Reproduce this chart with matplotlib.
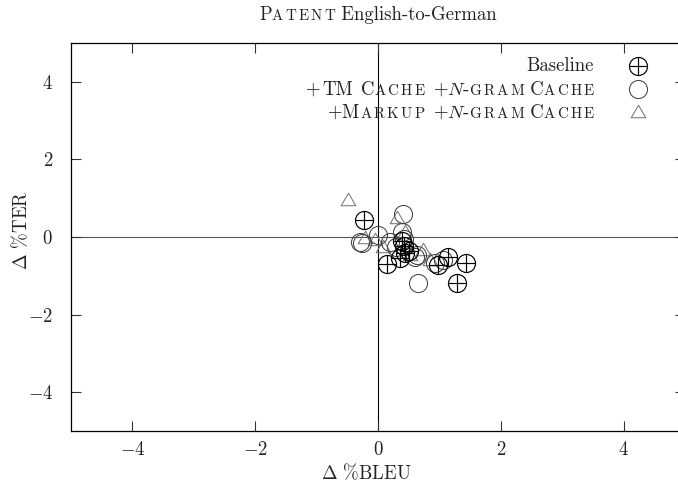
import matplotlib
matplotlib.use("Agg")
import matplotlib.pyplot as plt
from matplotlib.path import Path
from matplotlib.offsetbox import TextArea, HPacker, AnchoredOffsetbox

plt.rcParams['font.family'] = 'cmr10'
plt.rcParams['mathtext.fontset'] = 'cm'
plt.rcParams['axes.formatter.use_mathtext'] = True
plt.rcParams['axes.unicode_minus'] = True

# ---- data ----
baseline_x = [-0.22, 0.15, 0.39, 0.42, 0.44, 0.36, 0.50, 0.98, 1.14, 1.44, 1.28]
baseline_y = [0.44, -0.70, -0.10, -0.22, -0.42, -0.55, -0.35, -0.72, -0.52, -0.67, -1.18]

tm_x = [-0.30, -0.26, 0.00, 0.40, 0.39, 0.42, 0.20, 0.63, 0.60, 0.93, 1.06, 0.65, 0.30]
tm_y = [-0.12, -0.16, 0.05, 0.58, 0.13, -0.05, -0.13, -0.46, -0.52, -0.67, -0.59, -1.19, -0.25]

mk_x = [-0.49, -0.21, -0.05, 0.31, 0.44, 0.73, 0.85, 0.52, 0.08]
mk_y = [0.95, -0.03, -0.08, 0.49, 0.13, -0.34, -0.59, -0.46, -0.26]

xticks = [-4, -2, 0, 2, 4]
yticks = [-4, -2, 0, 2, 4]

FS = 13.5

# ---- markers ----
oplus = Path.make_compound_path(
    Path.unit_circle(),
    Path([[-1, 0], [1, 0]], [Path.MOVETO, Path.LINETO]),
    Path([[0, -1], [0, 1]], [Path.MOVETO, Path.LINETO]),
)
tri = Path([[-7, -5], [7, -5], [0, 7], [-7, -5]],
           [Path.MOVETO, Path.LINETO, Path.LINETO, Path.CLOSEPOLY])

fig = plt.figure(figsize=(6.78, 4.86), dpi=100)
ax = fig.add_axes([71/678, 55/486, 614/678, 388/486])

ax.axvline(0, color='black', lw=0.8, zorder=1)
ax.axhline(0, color='#555555', lw=0.8, zorder=1)

ms = 13
ax.plot(mk_x, mk_y, ls='none', marker=tri, ms=10.5, mfc='none', mec='#777777', mew=0.75, zorder=2)
ax.plot(tm_x, tm_y, ls='none', marker='o', ms=ms, mfc='none', mec='#444444', mew=0.75, zorder=3)
ax.plot(baseline_x, baseline_y, ls='none', marker=oplus, ms=ms, mfc='none', mec='black', mew=0.85, zorder=4)

ax.set_xlim(-5, 5)
ax.set_ylim(-5, 5)
ax.set_xticks(xticks)
ax.set_yticks(yticks)
ax.tick_params(axis='both', direction='in', length=7, width=0.8, top=True, right=True,
               labelsize=FS, color='#333333', labelcolor='#222222')
ax.tick_params(axis='x', pad=7)
ax.tick_params(axis='y', pad=13)
for s in ax.spines.values():
    s.set_linewidth(0.9)

# axis labels
fig.text(366/678, 1 - 473/486, r'$\Delta$ %BLEU', ha='center', va='center', fontsize=FS, color='#222222')
fig.text(21/678, 1 - 230/486, r'$\Delta$ %TER', ha='center', va='center', fontsize=FS, rotation=90,
         color='#222222')

# small caps helper
SC = 0.80
TRACK = 1.6  # points between small-cap letters

def sc_box(txt):
    letters = [TextArea(ch, textprops=dict(fontsize=FS * SC, color='#222222')) for ch in txt]
    return HPacker(children=letters, align='baseline', pad=0, sep=TRACK)

def row(pieces):
    kids = []
    for txt, kind in pieces:
        if kind == 'n':
            kids.append(TextArea(txt, textprops=dict(fontsize=FS, color='#222222')))
        elif kind == 's':
            kids.append(sc_box(txt))
        elif kind == 'g':
            kids.append(TextArea(' ', textprops=dict(fontsize=FS * txt)))
    return HPacker(children=kids, align='baseline', pad=0, sep=0)

def place(box, x, y, loc='center right'):
    ab = AnchoredOffsetbox(loc=loc, child=box, pad=0, borderpad=0, frameon=False,
                           bbox_to_anchor=(x, y), bbox_transform=ax.transAxes)
    ax.add_artist(ab)

# title
title_box = row([('P', 'n'), ('ATENT', 's'), (' English-to-German', 'n')])
ab = AnchoredOffsetbox(loc='center', child=title_box, pad=0, borderpad=0, frameon=False,
                       bbox_to_anchor=(378/678, 1 - 15/486), bbox_transform=fig.transFigure)
fig.add_artist(ab)

# legend
xr = (594 - 71) / 614
xm = (638 - 71) / 614
rows_y = [(431 - 66) / 388, (431 - 89) / 388, (431 - 112) / 388]

place(row([('Baseline', 'n')]), xr, rows_y[0])
place(row([('$+$', 'n'), (0.3, 'g'), ('TM', 'n'), (1.2, 'g'), ('C', 'n'), ('ACHE', 's'), (1.3, 'g'),
           ('$+N$-', 'n'), ('GRAM', 's'), (' C', 'n'), ('ACHE', 's')]),
      xr, rows_y[1])
place(row([('$+$M', 'n'), ('ARKUP', 's'), (1.3, 'g'), ('$+N$-', 'n'), ('GRAM', 's'), (' C', 'n'), ('ACHE', 's')]),
      xr, rows_y[2])

ax.plot([xm], [rows_y[0]], transform=ax.transAxes, clip_on=False, ls='none', marker=oplus,
        ms=ms, mfc='none', mec='black', mew=0.85)
ax.plot([xm], [rows_y[1]], transform=ax.transAxes, clip_on=False, ls='none', marker='o',
        ms=ms, mfc='none', mec='#444444', mew=0.75)
ax.plot([xm], [rows_y[2]], transform=ax.transAxes, clip_on=False, ls='none', marker=tri,
        ms=10.5, mfc='none', mec='#777777', mew=0.75)

fig.savefig('out.png', dpi=100)
